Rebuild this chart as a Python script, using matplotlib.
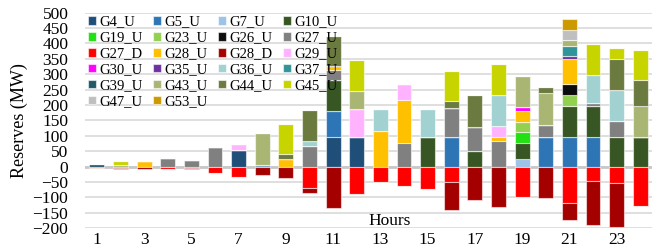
import numpy as np
import matplotlib.pyplot as plt

plt.rcParams['font.family'] = ['Liberation Serif', 'DejaVu Serif']

horas = list(range(1, 25))

# reservas hacia arriba (MW), una lista por generador
G4_U = [0, 0, 0, 0, 0, 0, 55, 0, 0, 0, 97, 97, 0, 0, 0, 0, 0, 0, 0, 0, 0, 0, 0, 0]
G5_U = [0, 0, 0, 0, 0, 0, 0, 4, 0, 0, 85, 0, 0, 0, 0, 97, 0, 0, 0, 96, 97, 97, 0, 0]
G7_U = [0, 0, 0, 0, 0, 0, 0, 0, 0, 0, 0, 0, 0, 0, 0, 0, 0, 0, 26, 0, 0, 0, 0, 0]
G10_U = [0, 0, 0, 0, 0, 0, 0, 0, 0, 0, 99, 0, 0, 0, 97, 0, 51, 0, 50, 0, 100, 99, 97, 97]
G19_U = [0, 0, 0, 0, 0, 0, 0, 0, 0, 0, 0, 0, 0, 0, 0, 0, 0, 0, 36, 0, 0, 0, 0, 0]
G23_U = [0, 0, 0, 0, 0, 0, 0, 0, 0, 0, 0, 0, 0, 0, 0, 0, 0, 0, 33, 0, 36, 0, 0, 0]
G26_U = [0, 0, 0, 0, 0, 0, 0, 0, 0, 0, 0, 0, 0, 0, 0, 0, 0, 0, 0, 0, 35, 0, 0, 0]
G27_U = [0, 0, 0, 28, 23, 65, 0, 0, 0, 67, 34, 0, 0, 76, 0, 92, 79, 83, 0, 39, 0, 10, 51, 0]
G28_U = [0, 0, 20, 0, 0, 0, 0, 0, 25, 0, 12, 0, 115, 140, 0, 0, 0, 13, 37, 0, 81, 0, 0, 0]
G29_U = [0, 0, 0, 0, 0, 0, 19, 0, 0, 0, 0, 90, 0, 51, 0, 0, 0, 36, 0, 0, 0, 0, 0, 0]
G30_U = [0, 0, 0, 0, 0, 0, 0, 0, 0, 0, 0, 0, 0, 0, 0, 0, 0, 0, 12, 0, 0, 0, 0, 0]
G35_U = [0, 0, 0, 0, 0, 0, 0, 0, 0, 0, 0, 0, 0, 0, 0, 0, 0, 0, 0, 0, 10, 0, 0, 0]
G36_U = [0, 0, 0, 0, 0, 0, 0, 0, 0, 15, 0, 0, 73, 0, 89, 0, 0, 100, 0, 0, 0, 92, 101, 0]
G37_U = [0, 0, 0, 0, 0, 0, 0, 0, 0, 0, 0, 0, 0, 0, 0, 0, 0, 0, 0, 0, 34, 0, 0, 0]
G39_U = [10, 0, 0, 0, 0, 0, 0, 0, 0, 0, 0, 0, 0, 0, 0, 0, 0, 0, 0, 0, 0, 0, 0, 0]
G43_U = [0, 7, 0, 0, 0, 0, 0, 106, 0, 0, 0, 57, 0, 0, 0, 0, 0, 0, 101, 103, 18, 0, 0, 101]
G44_U = [0, 0, 0, 0, 0, 0, 0, 0, 15, 101, 98, 0, 0, 0, 0, 24, 101, 0, 0, 19, 0, 0, 101, 83]
G45_U = [0, 11, 0, 0, 0, 0, 0, 0, 100, 0, 0, 101, 0, 0, 0, 98, 0, 101, 0, 0, 0, 100, 35, 99]
G47_U = [0, 0, 0, 0, 0, 0, 0, 0, 0, 0, 0, 0, 0, 0, 0, 0, 0, 0, 0, 0, 33, 0, 0, 0]
G53_U = [0, 0, 0, 0, 0, 0, 0, 0, 0, 0, 0, 0, 0, 0, 0, 0, 0, 0, 0, 0, 36, 0, 0, 0]

# reservas hacia abajo (MW)
G27_D = [-4, -3, 0, -8, -4, -22, -32, 0, 0, -70, 0, -88, -50, -63, -72, -50, 0, 0, -98, 0, -118, -47, -54, -128]
G28_D = [0, -5, -8, 0, -3, 0, 0, -27, -37, -16, -133, 0, 0, 0, 0, -90, -109, -130, 0, -102, -55, -142, -142, 0]

subir = [
    ('G4_U', G4_U, '#1F4E79'), ('G5_U', G5_U, '#2E75B6'), ('G7_U', G7_U, '#9DC3E6'),
    ('G10_U', G10_U, '#375623'), ('G19_U', G19_U, '#22E012'), ('G23_U', G23_U, '#92D050'),
    ('G26_U', G26_U, '#0D0D0D'), ('G27_U', G27_U, '#808080'), ('G28_U', G28_U, '#FFC000'),
    ('G29_U', G29_U, '#FFB3FF'), ('G30_U', G30_U, '#FF00FF'), ('G35_U', G35_U, '#7030A0'),
    ('G36_U', G36_U, '#A1D1D1'), ('G37_U', G37_U, '#31949B'), ('G39_U', G39_U, '#215968'),
    ('G43_U', G43_U, '#A9B673'), ('G44_U', G44_U, '#6B7A3F'), ('G45_U', G45_U, '#C8D400'),
    ('G47_U', G47_U, '#BFBFBF'), ('G53_U', G53_U, '#CC9900'),
]
bajar = [('G27_D', G27_D, '#FF0000'), ('G28_D', G28_D, '#A50000')]

# orden de la leyenda (por filas, como en el original)
orden_leyenda = ['G4_U', 'G5_U', 'G7_U', 'G10_U',
                 'G19_U', 'G23_U', 'G26_U', 'G27_U',
                 'G27_D', 'G28_U', 'G28_D', 'G29_U',
                 'G30_U', 'G35_U', 'G36_U', 'G37_U',
                 'G39_U', 'G43_U', 'G44_U', 'G45_U',
                 'G47_U', 'G53_U']

fig = plt.figure(figsize=(6.61, 2.47), dpi=100)
ax = fig.add_axes([0.1286, 0.0757, 0.8578, 0.8733])

x = np.array(horas)
ancho = 0.63
borde = (1, 1, 1, 0.55)
barras = {}

base = np.zeros(len(horas))
for nombre, vals, color in subir:
    v = np.array(vals, dtype=float)
    barras[nombre] = ax.bar(x, v, ancho, bottom=base, color=color, edgecolor=borde,
                            linewidth=0.8, label=nombre, zorder=3)
    base += v

base = np.zeros(len(horas))
for nombre, vals, color in bajar:
    v = np.array(vals, dtype=float)
    barras[nombre] = ax.bar(x, v, ancho, bottom=base, color=color, edgecolor=borde,
                            linewidth=0.8, label=nombre, zorder=3)
    base += v

ax.set_xlim(0.5, 24.5)
ax.set_ylim(-200, 500)
ax.set_yticks(np.arange(-200, 501, 50))
ax.set_xticks(np.arange(1, 25, 2))
ax.grid(axis='y', color='#D9D9D9', linewidth=1.2, zorder=0)
ax.axhline(0, color='#C8C8C8', linewidth=2.0, zorder=2)
for s in ax.spines.values():
    s.set_visible(False)
ax.tick_params(axis='both', length=0, labelsize=12.5)
ax.tick_params(axis='y', pad=12)
ax.tick_params(axis='x', pad=3)

ax.set_ylabel('Reserves (MW)', fontsize=13)
ax.yaxis.set_label_coords(-0.10, 0.5)
ax.text(13.4, -177, 'Hours', fontsize=12.5, ha='center', va='center')

# reordenar para que matplotlib (que llena por columnas) quede por filas
ncol = 4
filas = [orden_leyenda[i:i + ncol] for i in range(0, len(orden_leyenda), ncol)]
por_columna = []
for c in range(ncol):
    for f in filas:
        if c < len(f):
            por_columna.append(f[c])
ax.legend([barras[n] for n in por_columna], por_columna, ncol=ncol, loc='upper left',
          frameon=False, fontsize=10.5, handlelength=0.55, handleheight=0.55,
          handletextpad=0.25, columnspacing=0.7, labelspacing=0.2,
          borderaxespad=0.05, borderpad=0.15)

plt.savefig('out.png', dpi=100)
